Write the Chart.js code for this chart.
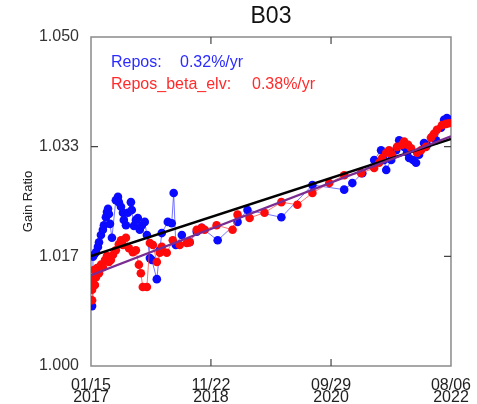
<!DOCTYPE html>
<html>
<head>
<meta charset="utf-8">
<script src="https://cdn.jsdelivr.net/npm/chart.js@4.4.1/dist/chart.umd.min.js"></script>
<style>
  html, body { margin: 0; padding: 0; background: #fff; }
  #wrap { width: 477px; height: 404px; }
</style>
</head>
<body>
<div id="wrap"><canvas id="gainChart"></canvas></div>
<script>
const chartTitle = "B03";
// days since 2017-01-15
const xTickDays = [0, 676, 1353, 2029];
const xTickLabels = [["01/15", "2017"], ["11/22", "2018"], ["09/29", "2020"], ["08/06", "2022"]];
const yTicks = [1.0, 1.016667, 1.033333, 1.05];

const blueDays = [6, 11, 17, 28, 39, 45, 56, 67, 73, 84, 90, 96, 101, 107, 118, 140, 152, 157, 169, 180,
  185, 197, 208, 225, 230, 242, 253, 264, 275, 287, 303, 315, 332, 343, 371, 388, 399, 433, 455, 466,
  478, 512, 556, 596, 624, 714, 826, 882, 1073, 1248, 1427, 1473, 1529, 1596, 1635, 1652, 1664, 1692,
  1720, 1737, 1765, 1782, 1793, 1815, 1832, 1849, 1877, 1894, 1922, 1945, 1973, 1990, 2006, 2023];
const blueGain = [1.0091, 1.0166, 1.0169, 1.0173, 1.0181, 1.0188, 1.0199, 1.0207, 1.0214, 1.0226, 1.0234, 1.0239, 1.0231, 1.0216, 1.0195, 1.0252, 1.0257, 1.0249, 1.0242, 1.0233,
  1.0222, 1.0214, 1.0233, 1.0249, 1.0237, 1.0213, 1.0222, 1.0225, 1.0207, 1.0214, 1.0219, 1.0199, 1.0164, 1.0161, 1.0132, 1.0176, 1.0202, 1.0219, 1.0217, 1.0263,
  1.0184, 1.0199, 1.0188, 1.0204, 1.0210, 1.0191, 1.0219, 1.0237, 1.0226, 1.0275, 1.0268, 1.0278, 1.0293, 1.0313, 1.0328, 1.0313, 1.0298, 1.0313,
  1.0328, 1.0343, 1.0333, 1.0325, 1.0316, 1.0313, 1.0309, 1.0321, 1.0339, 1.0336, 1.0348, 1.0343, 1.0362, 1.0374, 1.0377, 1.0374];

const redDays = [6, 6, 11, 17, 22, 28, 34, 45, 56, 67, 79, 90, 101, 112, 124, 140, 157, 169, 180, 197,
  214, 236, 253, 270, 281, 292, 315, 332, 349, 371, 388, 399, 427, 461, 500, 540, 556, 596, 624, 641,
  708, 798, 826, 894, 978, 1073, 1163, 1248, 1343, 1427, 1523, 1596, 1624, 1641, 1664, 1680, 1697, 1725, 1753, 1765,
  1787, 1804, 1838, 1860, 1888, 1916, 1933, 1950, 1978, 2001, 2018];
const redGain = [1.0100, 1.0116, 1.0131, 1.0146, 1.0123, 1.0135, 1.0149, 1.0141, 1.0154, 1.0150, 1.0161, 1.0167, 1.0158, 1.0161, 1.0169, 1.0176, 1.0185, 1.0191, 1.0184, 1.0195,
  1.0179, 1.0173, 1.0176, 1.0154, 1.0141, 1.0120, 1.0120, 1.0187, 1.0184, 1.0158, 1.0172, 1.0181, 1.0172, 1.0191, 1.0184, 1.0187, 1.0188, 1.0207, 1.0210, 1.0207,
  1.0214, 1.0207, 1.0230, 1.0225, 1.0233, 1.0249, 1.0245, 1.0263, 1.0278, 1.0290, 1.0293, 1.0301, 1.0309, 1.0316, 1.0324, 1.0328, 1.0321, 1.0333, 1.0336, 1.0341,
  1.0336, 1.0331, 1.0324, 1.0328, 1.0333, 1.0347, 1.0353, 1.0359, 1.0366, 1.0368, 1.0369];

// linear fits
const fitDays = [0, 2029];
const blueFit = [1.0167, 1.0345];
const redFit = [1.0138, 1.0349];

const legendLines = [
  { name: "Repos:", rate: "0.32%/yr", color: "#2b2bff", rateX: 69 },
  { name: "Repos_beta_elv:", rate: "0.38%/yr", color: "#ff2b2b", rateX: 141 },
];

function toPoints(xs, ys) {
  return xs.map((x, i) => ({ x: x, y: ys[i] }));
}

// frame + inward ticks, title over the plot box, rate labels
const frameTicks = {
  id: "frameTicks",
  beforeDatasetsDraw(chart) {
    const { ctx, chartArea: a, scales } = chart;
    ctx.save();
    ctx.strokeStyle = "#8a8a8a";
    ctx.lineWidth = 1.5;
    ctx.strokeRect(a.left, a.top, a.right - a.left, a.bottom - a.top);
    ctx.strokeStyle = "#444";
    ctx.lineWidth = 1.2;
    ctx.beginPath();
    yTicks.slice(1, -1).forEach((v) => {
      const y = scales.y.getPixelForValue(v);
      ctx.moveTo(a.left, y); ctx.lineTo(a.left + 7, y);
      ctx.moveTo(a.right, y); ctx.lineTo(a.right - 7, y);
    });
    xTickDays.slice(1, -1).forEach((v) => {
      const x = scales.x.getPixelForValue(v);
      ctx.moveTo(x, a.bottom); ctx.lineTo(x, a.bottom - 7);
      ctx.moveTo(x, a.top); ctx.lineTo(x, a.top + 7);
    });
    ctx.stroke();
    ctx.restore();
  },
  afterDraw(chart) {
    const { ctx, chartArea: a } = chart;
    ctx.save();
    ctx.textBaseline = "middle";
    ctx.fillStyle = "#111";
    ctx.textAlign = "center";
    ctx.font = "23px 'Liberation Sans'";
    ctx.fillText(chartTitle, (a.left + a.right) / 2, 17);
    ctx.textAlign = "left";
    ctx.font = "16px 'Liberation Sans'";
    legendLines.forEach((l, i) => {
      const y = a.top + 26 + i * 22;
      ctx.fillStyle = l.color;
      ctx.fillText(l.name, a.left + 20, y);
      ctx.fillText(l.rate, a.left + 20 + l.rateX, y);
    });
    ctx.restore();
  },
};

Chart.defaults.font.family = "'Liberation Sans', Arial, sans-serif";
Chart.defaults.color = "#333";

const ctx = document.getElementById("gainChart").getContext("2d");
new Chart(ctx, {
  type: "scatter",
  data: {
    datasets: [
      {
        label: "Repos",
        data: toPoints(blueDays, blueGain),
        showLine: true,
        borderColor: "rgba(70,70,255,0.75)",
        borderWidth: 1,
        pointRadius: 4.3,
        pointBorderWidth: 0,
        pointBackgroundColor: "#0a0aff",
        order: 4,
      },
      {
        label: "Repos_beta_elv",
        data: toPoints(redDays, redGain),
        showLine: true,
        borderColor: "rgba(255,70,70,0.75)",
        borderWidth: 1,
        pointRadius: 4.3,
        pointBorderWidth: 0,
        pointBackgroundColor: "#ff0a0a",
        order: 3,
      },
      {
        label: "Repos fit",
        data: toPoints(fitDays, blueFit),
        showLine: true,
        borderColor: "#000",
        borderWidth: 2.5,
        pointRadius: 0,
        order: 2,
      },
      {
        label: "Repos_beta_elv fit",
        data: toPoints(fitDays, redFit),
        showLine: true,
        borderColor: "#7a2c92",
        borderWidth: 2.2,
        pointRadius: 0,
        order: 1,
      },
    ],
  },
  options: {
    responsive: true,
    maintainAspectRatio: false,
    animation: false,
    layout: { padding: { left: 0, right: 25, top: 37, bottom: 0 } },
    plugins: {
      legend: { display: false },
      tooltip: { enabled: false },
      title: { display: false },
    },
    scales: {
      x: {
        type: "linear",
        min: 0,
        max: 2029,
        grid: { display: false },
        border: { display: false },
        afterBuildTicks: (s) => { s.ticks = xTickDays.map((v) => ({ value: v })); },
        afterFit: (s) => { s.height = 38; },
        ticks: {
          maxRotation: 0,
          padding: 6,
          color: "#222",
          font: { size: 16, lineHeight: 0.72 },
          callback: (v, i) => xTickLabels[i],
        },
      },
      y: {
        min: 1.0,
        max: 1.05,
        grid: { display: false },
        border: { display: false },
        afterBuildTicks: (s) => { s.ticks = yTicks.map((v) => ({ value: v })); },
        afterFit: (s) => { s.width = 91; },
        title: {
          display: true,
          text: "Gain Ratio",
          color: "#222",
          font: { size: 13 },
          padding: { top: 21, bottom: 0 },
        },
        ticks: {
          padding: 4,
          color: "#333",
          font: { size: 16 },
          callback: (v) => v.toFixed(3),
        },
      },
    },
  },
  plugins: [frameTicks],
});
</script>
</body>
</html>
